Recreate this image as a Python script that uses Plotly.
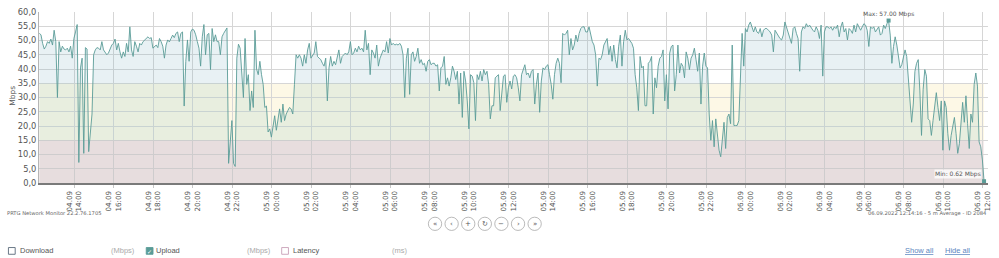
import numpy as np
import pandas as pd
import plotly.graph_objects as go

# ---------------- data (Upload, Mbps, 5-minute averages) ----------------
start_time = "2022-09-04 12:14"
step = "5min"

upload_0409_1214 = [
    52.5, 52, 49, 47, 48, 49.6, 49, 50.5, 48.4, 53.6, 49.6, 30,
    49.6, 46, 48, 47, 46.7, 47.3, 46, 48, 43.8, 50.7, 53, 55.6,
    7.2, 40.4, 43.8, 10.4, 47.5, 47, 11, 17.3, 24.2, 45, 46.7, 47.5,
    47.3, 46.7, 49.6, 46.7, 46, 45, 45.6, 47, 48.4, 49, 50.5, 46.7,
    49, 46, 43.8, 46, 44.4, 49, 46, 54.8, 46.7, 44.4, 49.6, 48,
    46, 49, 48.4, 49.6, 50.2, 50.7, 51.3, 50.7, 51, 47.3, 48, 48.4,
    47.5, 50.7, 49.6, 48, 43.8, 48.4, 50.2, 49.5, 50.7, 51.9, 51, 52.5,
    53, 49.6, 52.5, 53, 27, 42.7, 50.2, 42.7, 53, 54, 53.6,
]
upload_0409_2009 = [
    52, 49.6, 47.3, 41, 51.3, 55.6, 45, 52, 52.5, 39.8, 54.2, 49.6,
    52, 49.6, 49.6, 45, 51.3, 52.5, 53.6, 54.4, 6.9, 15, 21.9, 6.9,
    5.8, 43.8, 48.7, 47.3, 38, 30, 50.7, 34.6, 38, 25.4, 32.3, 26.5,
    53.6, 40, 38, 42.7, 38, 34.6, 26.5, 27, 17.9, 19, 16.1, 20.8,
    23.6, 18.5, 21.9, 26, 21.3, 27.7, 21.9, 24.2, 25.4, 26.5, 26, 24.2,
    34.6, 45, 43.8, 45, 43.8, 41, 45, 42, 46.7, 49, 43.8, 45,
    45.6, 49.6, 44.4, 43.8, 43.3, 42, 41, 43.8, 28.8, 40.4, 44.4, 41,
    42.7, 41.5, 43.8, 46.7, 42, 44.4, 45, 45.6, 45, 46, 49.6, 45,
]
upload_0509_0414 = [
    45.6, 47.3, 46, 48, 46.7, 47.3, 46, 53.6, 46.7, 49, 38, 46.7,
    45.6, 43.8, 48.4, 41, 43.8, 45, 46.7, 46, 49.6, 45.6, 50.7, 48.4,
    49, 48.4, 48.7, 48.4, 49, 48, 45, 30, 43.8, 47.3, 31.1, 45,
    46, 42.7, 44.4, 47.3, 42, 43.3, 41.5, 42, 39.2, 42.7, 43.3, 41.5,
    42, 42, 41, 41.5, 32.3, 40.4, 41, 44.4, 34.6, 36.9, 34, 36.9,
    41, 39.2, 36.3, 39.2, 27.7, 38.6, 23, 39.2, 35.8, 28.8, 19, 38,
    37.5, 35.2, 21.9, 38, 36.3, 39.2, 35.8, 39.8, 38, 39.2, 34.6, 22.5,
    27.1, 27.1, 36.9, 37.5, 38, 25.4, 32.9, 37.5, 38, 28.3, 33.4, 35.8,
]
upload_0509_1229 = [
    33, 37.5, 38, 36.9, 33.4, 28.8, 38, 39.8, 41.5, 38, 38.6, 36.9,
    39.2, 39.8, 27.7, 34.6, 38.6, 24.8, 35.8, 40.4, 39.8, 41, 41.5, 38,
    34.6, 29.4, 38, 42, 43.8, 42, 35.2, 52.5, 51.9, 52.5, 53.6, 45,
    50.7, 46.7, 48.4, 51.9, 49.6, 52.5, 54.2, 54.8, 54.8, 53, 53, 54.8,
    52.5, 49.6, 48.4, 45, 34, 43.8, 43.3, 45, 48.4, 49.6, 50.7, 45,
    48, 42.7, 48.4, 43.3, 40.4, 48, 51.9, 41, 49.6, 53.6, 50.2, 50.7,
    49.6, 49, 47.3, 38, 33.4, 25.4, 44.4, 40.4, 41, 27.1, 27.1, 42,
    42.7, 44.4, 24.2, 36.9, 33.4, 41, 43.8, 44.4, 46.7, 28.8, 38,
]
upload_0509_2024 = [
    26, 45.6, 47.9, 48.4, 32.3, 38, 48.4, 38.6, 42, 41, 36.9, 46,
    43.8, 39.8, 43.8, 45, 47.3, 43.3, 39.2, 45.6, 27.7, 41, 45.6, 41,
    40.4, 24.2, 15, 21.9, 12.7, 22.5, 16.1, 11.5, 9.2, 15, 21.3, 12.1,
    23, 24.2, 20.8, 48.4, 20.2, 20.2, 20.2, 21.9, 41, 52.5, 41, 54.2,
    53, 55.4, 56.5, 54.8, 53, 54.8, 53, 52.5, 54.2, 51.3, 53.6, 54.2,
    54.2, 53.6, 53, 51.9, 46, 53.6, 52.5, 51.9, 50.7, 50.2, 51.9, 56.5,
    54.8, 53, 50.7, 49, 54.2, 54.8, 52.5, 50.7, 39.2, 53, 54.8, 54.2,
    55.9, 54.8, 55.4, 54.2, 53.6, 53, 54.8, 53.6, 50.7, 55.4, 37.5, 53,
]
upload_0609_0424 = [
    54.8, 54.8, 54.2, 54.8, 53.6, 54.8, 54.2, 55.4, 51.3, 54.8, 56.5, 53,
    54.2, 50.2, 54.2, 53.6, 52.5, 55.4, 53, 55.9, 54.8, 53.6, 54.8, 55.9,
    55.4, 53.6, 47.9, 54.8, 54.2, 54.8, 53, 54.2, 54.8, 51.9, 52.5, 55.4,
    54.2, 55.9, 57.0, 51.9, 42, 47.9, 51.3, 48.4, 43.3, 40.4, 41.5, 43.8,
    46.7, 44.4, 36.9, 28.8, 21.3, 27.7, 39.2, 42, 43.3, 32.3, 16.7, 32.9,
    39.8, 37.5, 22.5, 21.9, 16.7, 21.9, 26.5, 31.7, 26.5, 21.9, 28.8, 11.5,
    28.8, 26.5, 17.3, 11.5, 16.7, 19.6, 23, 17.3, 10.4, 13.8, 20.8, 28.3,
    21.3, 30.6, 20.8, 12.1, 24.2, 21.3, 34.6, 38.6, 34, 14.4, 12.7, 8.1,
    0.62,
]

y_ticks = [0, 5, 10, 15, 20, 25, 30, 35, 40, 45, 50, 55, 60]
band_edges = [0, 15, 35, 60]

legend_items = ["Download", "Upload", "Latency"]
legend_units = ["(Mbps)", "(Mbps)", "(ms)"]
footer_left = "PRTG Network Monitor 22.2.76.1705"
footer_right = "06.09.2022 12:14:16 - 5 m Average - ID 2084"
nav_symbols = ["«", "‹", "+", "↻", "−", "›", "»"]

values = np.array(upload_0409_1214 + upload_0409_2009 + upload_0509_0414 +
                  upload_0509_1229 + upload_0509_2024 + upload_0609_0424, dtype=float)
times = pd.date_range(start_time, periods=len(values), freq=step)

# ---------------- geometry helpers ----------------
W, H = 999, 258
ML, MR, MT, MB = 39, 7, 10, 75
PW = W - ML - MR
PH = H - MT - MB


def px(x):
    return (x - ML) / PW


def py(y):
    return (H - MB - y) / PH


LINE = "#5a9c97"
FONT = "DejaVu Sans"

fig = go.Figure()

# densify line with crossings of band edges so fills match the line exactly
t_ns = times.asi8.astype(float)
xs, ys = [t_ns[0]], [values[0]]
for i in range(1, len(values)):
    t0, t1, v0, v1 = t_ns[i - 1], t_ns[i], values[i - 1], values[i]
    cr = []
    for b in band_edges[1:-1]:
        if (v0 - b) * (v1 - b) < 0:
            cr.append((t0 + (b - v0) / (v1 - v0) * (t1 - t0), b))
    cr.sort()
    for c in cr:
        xs.append(c[0]); ys.append(c[1])
    xs.append(t1); ys.append(v1)
xd = pd.to_datetime(np.array(xs).astype("int64"))
yd = np.array(ys)

band_fill = ["rgba(175,165,170,0.2)", "rgba(150,200,195,0.2)", "rgba(130,178,196,0.18)"]
band_bg = ["#f5ecec", "#fdf8e6", "#ffffff"]

shapes = []
for j in range(3):
    lo, hi = band_edges[j], band_edges[j + 1]
    shapes.append(dict(type="rect", xref="x", yref="y", x0=times[0], x1=times[-1],
                       y0=lo, y1=hi, fillcolor=band_bg[j], line=dict(width=0), layer="below"))
    fig.add_trace(go.Scatter(x=xd, y=np.full(len(yd), lo), mode="lines",
                             line=dict(width=0, color="rgba(0,0,0,0)"),
                             hoverinfo="skip", showlegend=False))
    fig.add_trace(go.Scatter(x=xd, y=np.clip(yd, lo, hi), mode="lines",
                             line=dict(width=0, color="rgba(0,0,0,0)"),
                             fill="tonexty", fillcolor=band_fill[j],
                             hoverinfo="skip", showlegend=False))

fig.add_trace(go.Scatter(x=times, y=values, mode="lines",
                         line=dict(color=LINE, width=0.9), showlegend=False))

imax = int(np.argmax(values))
imin = int(np.argmin(values))
fig.add_trace(go.Scatter(x=[times[imax], times[imin]], y=[values[imax], values[imin]],
                         mode="markers", marker=dict(symbol="square", size=4, color=LINE),
                         showlegend=False))


def note(x, y, text, size, color="#555", family=FONT, xanchor="center", **kw):
    return dict(x=px(x), y=py(y), xref="paper", yref="paper", text=text,
                xanchor=xanchor, yanchor="middle", showarrow=False,
                font=dict(family=family, size=size, color=color), **kw)


annotations = []
annotations.append(dict(x=times[imax], y=values[imax], xref="x", yref="y",
                        text=f"Max: {values[imax]:.2f} Mbps", showarrow=False,
                        xanchor="center", yanchor="middle",
                        yshift=7, font=dict(family=FONT, size=6, color="#555")))
annotations.append(dict(x=times[imin], y=values[imin], xref="x", yref="y",
                        text=f"Min: {values[imin]:.2f} Mbps", showarrow=False,
                        xanchor="right", yanchor="middle", xshift=-2, yshift=7,
                        bgcolor="rgba(255,255,255,0.75)", borderpad=0,
                        font=dict(family=FONT, size=6, color="#555")))

annotations.append(note(11.5, 95, "Mbps", 7.5, textangle=-90))
annotations.append(note(5, 213.5, footer_left, 5.2, "#666", xanchor="left"))
annotations.append(note(993, 213.5, footer_right, 5.2, "#666", xanchor="right"))

# navigation buttons
for i, s in enumerate(nav_symbols):
    cx, cy, r = 436.7 + i * 16.67, 224.3, 6.7
    shapes.append(dict(type="circle", xref="paper", yref="paper",
                       x0=px(cx - r), x1=px(cx + r), y0=py(cy + r), y1=py(cy - r),
                       line=dict(color="#a8a8a8", width=0.8), fillcolor="white"))
    annotations.append(note(cx, cy, s, 7, "#555"))

# legend row
box_x = [8.3, 146.7, 282.7]
text_x = [18.3, 154.5, 292]
unit_x = [109, 246, 391]
box_col = ["#5a6a7a", LINE, "#c8a0b8"]
for i in range(3):
    bx, by = box_x[i], 248.3
    shapes.append(dict(type="rect", xref="paper", yref="paper",
                       x0=px(bx), x1=px(bx + 6.8), y0=py(by + 6.8), y1=py(by),
                       line=dict(color=box_col[i], width=0.9),
                       fillcolor=(LINE if i == 1 else "white")))
    if i == 1:
        annotations.append(note(bx + 3.4, by + 3.6, "✓", 6, "white"))
    annotations.append(note(text_x[i], 251.5, legend_items[i], 7.5, "#555",
                            family="Liberation Sans", xanchor="left"))
    annotations.append(note(unit_x[i], 251.5, legend_units[i], 7.5, "#aaa",
                            family="Liberation Sans", xanchor="left"))

annotations.append(note(907, 251.5, "<u>Show all</u>", 7.5, "#5b86c0",
                        family="Liberation Sans", xanchor="left"))
annotations.append(note(946.5, 251.5, "<u>Hide all</u>", 7.5, "#5b86c0",
                        family="Liberation Sans", xanchor="left"))

fig.update_layout(
    width=W, height=H, autosize=False,
    margin=dict(l=ML, r=MR, t=MT, b=MB, pad=0),
    paper_bgcolor="white", plot_bgcolor="white",
    separators=",.",
    showlegend=False,
    shapes=shapes, annotations=annotations,
    font=dict(family=FONT, color="#555"),
)
fig.update_xaxes(
    type="date",
    range=["2022-09-04 12:13", "2022-09-06 12:16"],
    tick0="2022-09-04 14:00", dtick=2 * 3600 * 1000,
    tickformat="%d.%m<br>%H:%M", tickangle=-90,
    tickfont=dict(family=FONT, size=7.2, color="#555"),
    showgrid=True, gridcolor="#d6d6d6", gridwidth=1,
    showline=True, linecolor="#7a7a7a", linewidth=2,
    ticks="outside", ticklen=3, tickcolor="#c8c8c8",
    zeroline=False, fixedrange=True,
)
fig.update_yaxes(
    range=[0, 60], tickvals=y_ticks, tickformat=".1f",
    tickfont=dict(family=FONT, size=8.3, color="#555"),
    showgrid=True, gridcolor="#d6d6d6", gridwidth=1,
    showline=True, linecolor="#b5b5b5", linewidth=1,
    ticks="", zeroline=False, fixedrange=True,
)

fig.write_html("out.html")
